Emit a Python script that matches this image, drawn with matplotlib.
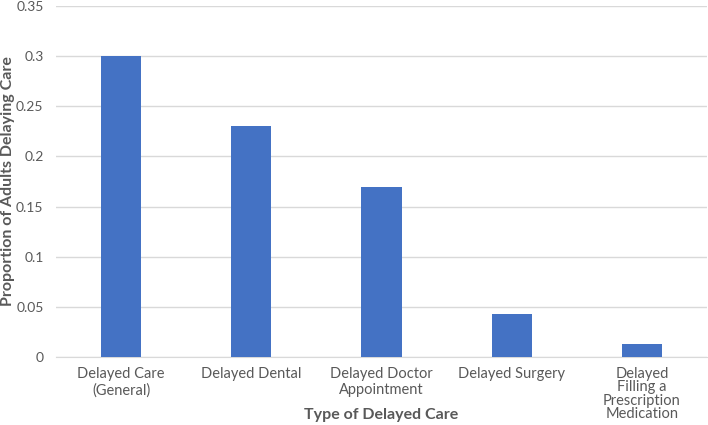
import matplotlib
matplotlib.use("Agg")
import matplotlib.pyplot as plt

categories = ["Delayed Care\n(General)", "Delayed Dental", "Delayed Doctor\nAppointment",
              "Delayed Surgery", "Delayed\nFilling a\nPrescription\nMedication"]
values = [0.30, 0.23, 0.17, 0.043, 0.013]
yticks = [0, 0.05, 0.1, 0.15, 0.2, 0.25, 0.3, 0.35]
ytick_labels = ["0", "0.05", "0.1", "0.15", "0.2", "0.25", "0.3", "0.35"]

plt.rcParams['font.family'] = ['Lato', 'DejaVu Sans']
txt = "#595959"

fig = plt.figure(figsize=(7.08, 4.25), dpi=100)
ax = fig.add_axes([56/708, 68/425, 651/708, 351/425])
x = range(len(categories))
ax.bar(x, values, width=0.31, color="#4472C4", zorder=3)
ax.set_xlim(-0.5, len(categories) - 0.5)
ax.set_ylim(0, 0.35)
ax.set_yticks(yticks)
ax.set_yticklabels(ytick_labels, color=txt, fontsize=10)
ax.set_xticks(list(x))
labels = ax.set_xticklabels(categories, color=txt, fontsize=10.5, linespacing=1.25)
labels[-1].set_linespacing(0.95)
ax.grid(axis="y", color="#D9D9D9", linewidth=1, zorder=0)
for s in ["top", "right", "left"]:
    ax.spines[s].set_visible(False)
ax.spines["bottom"].set_color("#D9D9D9")
ax.tick_params(axis="y", length=0, pad=9)
ax.tick_params(axis="x", length=0, pad=7)
ax.set_ylabel("Proportion of Adults Delaying Care", color=txt, fontsize=11.5, fontweight="bold", va="center")
ax.yaxis.set_label_coords(-0.0737, 0.5)
ax.set_xlabel("Type of Delayed Care", color=txt, fontsize=11.5, fontweight="bold", va="center")
ax.xaxis.set_label_coords(0.499, -0.165)
fig.savefig("out.png", dpi=100)
